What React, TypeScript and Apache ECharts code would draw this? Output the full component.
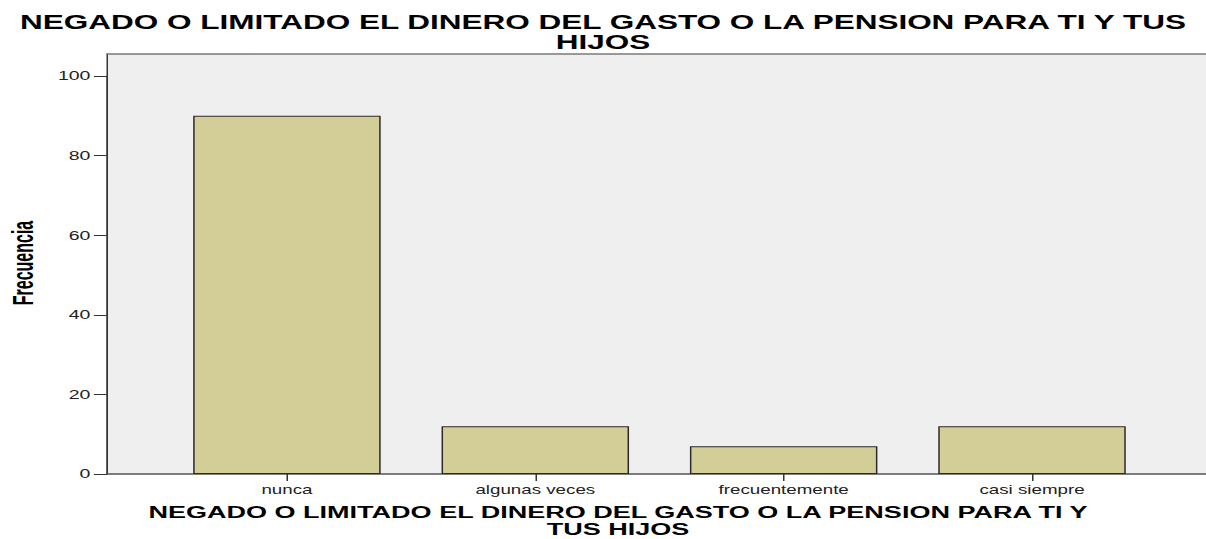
import React, { useEffect, useRef } from "react";
import * as echarts from "echarts";

const categories = ["nunca", "algunas veces", "frecuentemente", "casi siempre"];
const frequencies = [90, 12, 7, 12];
const yMin = 0;
const yMax = 100;
const yInterval = 20;
const titleText = "NEGADO O LIMITADO EL DINERO DEL GASTO O LA PENSION PARA TI Y TUS\nHIJOS";
const xAxisTitle = "NEGADO O LIMITADO EL DINERO DEL GASTO O LA PENSION PARA TI Y\nTUS HIJOS";
const yAxisTitle = "Frecuencia";

const SX = 1.5;
const W = 1206 / SX;
const H = 539;
const FONT = "Liberation Sans, Arial, sans-serif";

export default function App() {
  const ref = useRef<HTMLDivElement>(null);
  useEffect(() => {
    if (!ref.current) return;
    const chart = echarts.init(ref.current, null, { renderer: "svg" });
    const hiddenAxis = {
      axisTick: { show: false },
      axisLabel: { show: false },
      splitLine: { show: false },
    };
    chart.setOption({
      animation: false,
      backgroundColor: "#ffffff",
      grid: [
        { left: 71.3, right: -5, top: 54, bottom: 65, show: true, backgroundColor: "#efefef", borderWidth: 0 },
        { left: 108.5, right: 33.2, top: 76, bottom: 65 },
      ],
      xAxis: [
        { type: "value", gridIndex: 0, position: "top", min: 0, max: 1, axisLine: { show: true, onZero: false, lineStyle: { color: "#7a7a7a", width: 1.5 } }, ...hiddenAxis },
        { type: "value", gridIndex: 0, position: "bottom", min: 0, max: 1, axisLine: { show: true, onZero: false, lineStyle: { color: "#555555", width: 1.5 } }, ...hiddenAxis },
        {
          type: "category",
          gridIndex: 1,
          data: categories,
          axisLine: { show: false },
          axisTick: { show: true, alignWithLabel: true, length: 7, lineStyle: { color: "#333333", width: 1 } },
          axisLabel: { margin: 9, fontSize: 12.5, color: "#222222", fontFamily: FONT },
          splitLine: { show: false },
        },
      ],
      yAxis: [
        { type: "value", gridIndex: 0, min: 0, max: 1, axisLine: { show: true, onZero: false, lineStyle: { color: "#333333", width: 1 } }, ...hiddenAxis },
        {
          type: "value",
          gridIndex: 1,
          min: yMin,
          max: yMax,
          interval: yInterval,
          offset: 37.2,
          axisLine: { show: true, onZero: false, lineStyle: { color: "#333333", width: 1 } },
          axisTick: { show: true, length: 8.7, lineStyle: { color: "#333333", width: 1 } },
          axisLabel: { margin: 11, fontSize: 13, color: "#222222", fontFamily: FONT },
          splitLine: { show: false },
        },
      ],
      series: [
        {
          type: "bar",
          xAxisIndex: 2,
          yAxisIndex: 1,
          data: frequencies,
          barWidth: 125,
          itemStyle: { color: "#d3cd97", borderColor: "#2b2b2b", borderWidth: 1 },
        },
      ],
      graphic: [
        {
          type: "text",
          x: W / 2,
          y: 12,
          scaleX: 1.05,
          style: { text: titleText, fontSize: 20, fontWeight: "bold", fontFamily: FONT, fill: "#000000", align: "center", verticalAlign: "top", lineHeight: 20 },
        },
        {
          type: "text",
          x: 412,
          y: 504,
          scaleX: 1.06,
          style: { text: xAxisTitle, fontSize: 17, fontWeight: "bold", fontFamily: FONT, fill: "#000000", align: "center", verticalAlign: "top", lineHeight: 17 },
        },
        {
          type: "text",
          x: 15,
          y: 263,
          rotation: Math.PI / 2,
          scaleY: 1.25,
          style: { text: yAxisTitle, fontSize: 16, fontWeight: "bold", fontFamily: FONT, fill: "#000000", align: "center", verticalAlign: "middle" },
        },
      ],
    });
    return () => chart.dispose();
  }, []);
  return (
    <div style={{ position: "absolute", left: 0, top: 0, width: 1206, height: H, overflow: "hidden", background: "#ffffff" }}>
      <div ref={ref} style={{ width: W, height: H, transform: `scaleX(${SX})`, transformOrigin: "0 0" }} />
    </div>
  );
}
